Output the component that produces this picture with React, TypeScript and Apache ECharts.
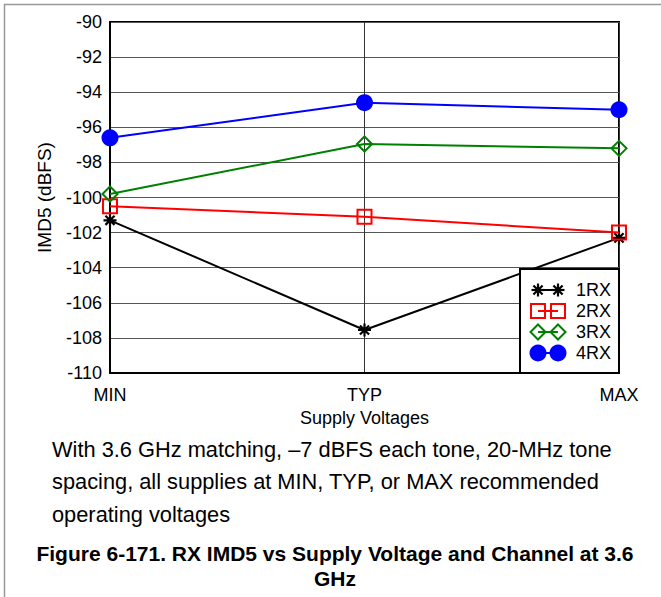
import React, { useEffect, useRef } from "react";
import * as echarts from "echarts";

const categories = ["MIN", "TYP", "MAX"];
const rx1 = [-101.3, -107.55, -102.3];
const rx2 = [-100.5, -101.1, -102.0];
const rx3 = [-99.8, -96.95, -97.2];
const rx4 = [-96.6, -94.6, -95.0];
const seriesNames = ["1RX", "2RX", "3RX", "4RX"];
const captionLines = [
  "With 3.6 GHz matching, \u20137 dBFS each tone, 20-MHz tone",
  "spacing, all supplies at MIN, TYP, or MAX recommended",
  "operating voltages",
];
const titleLines = ["Figure 6-171. RX IMD5 vs Supply Voltage and Channel at 3.6", "GHz"];

const ASTERISK = "path://M5,0L5,10M0,5L10,5M1.5,1.5L8.5,8.5M1.5,8.5L8.5,1.5";
const FONT = "'Liberation Sans', Arial, sans-serif";

export default function App() {
  const ref = useRef<HTMLDivElement>(null);
  useEffect(() => {
    if (!ref.current) return;
    const chart = echarts.init(ref.current, null, { renderer: "svg" });
    const styles = [
      { color: "#000", symbol: ASTERISK, size: 13, item: { color: "#000", borderColor: "#000", borderWidth: 2.2 } },
      { color: "#ff0000", symbol: "rect", size: 14, item: { color: "rgba(0,0,0,0)", borderColor: "#ff0000", borderWidth: 2 } },
      { color: "#008000", symbol: "diamond", size: 15, item: { color: "rgba(0,0,0,0)", borderColor: "#008000", borderWidth: 2 } },
      { color: "#0000ff", symbol: "circle", size: 17, item: { color: "#0000ff", borderColor: "#0000ff", borderWidth: 0 } },
    ];
    const datas = [rx1, rx2, rx3, rx4];
    const series = datas.map((d, i) => ({
      name: seriesNames[i],
      type: "line",
      data: d,
      symbol: styles[i].symbol,
      symbolSize: styles[i].size,
      showAllSymbol: true,
      lineStyle: { color: styles[i].color, width: 2 },
      itemStyle: styles[i].item,
      z: 2 + i,
    }));

    const legendRows = [290, 311, 332, 353];
    const legendEls: any[] = [
      { type: "rect", shape: { x: 520, y: 269, width: 99, height: 104 }, style: { fill: "#fff", stroke: "#000", lineWidth: 2 }, z: 100 },
    ];
    legendRows.forEach((y, i) => {
      const c = styles[i].color;
      legendEls.push({ type: "line", shape: { x1: 538, y1: y, x2: 558, y2: y }, style: { stroke: c, lineWidth: 2 }, z: 101 });
      [538, 558].forEach((x) => {
        if (i === 0) {
          const r = 6.5;
          [[0, 1], [1, 0], [0.707, 0.707], [0.707, -0.707]].forEach(([dx, dy]) => {
            legendEls.push({ type: "line", shape: { x1: x - dx * r, y1: y - dy * r, x2: x + dx * r, y2: y + dy * r }, style: { stroke: c, lineWidth: 2.2 }, z: 102 });
          });
        } else if (i === 1) {
          legendEls.push({ type: "rect", shape: { x: x - 7, y: y - 7, width: 14, height: 14 }, style: { fill: "none", stroke: c, lineWidth: 2 }, z: 102 });
        } else if (i === 2) {
          legendEls.push({ type: "polygon", shape: { points: [[x, y - 7.5], [x + 7.5, y], [x, y + 7.5], [x - 7.5, y]] }, style: { fill: "none", stroke: c, lineWidth: 2 }, z: 102 });
        } else {
          legendEls.push({ type: "circle", shape: { cx: x, cy: y, r: 8.5 }, style: { fill: c }, z: 102 });
        }
      });
      legendEls.push({ type: "text", x: 576, y: y, style: { text: seriesNames[i], font: `18px ${FONT}`, fill: "#000", verticalAlign: "middle" }, z: 102 });
    });

    const captionEls = captionLines.map((t, i) => ({
      type: "text",
      x: 52,
      y: 449 + i * 32.5,
      style: { text: t, font: `21.8px ${FONT}`, fill: "#000", verticalAlign: "middle" },
    }));
    const titleEls = titleLines.map((t, i) => ({
      type: "text",
      x: 335,
      y: 553 + i * 25,
      style: { text: t, font: `bold 21px ${FONT}`, fill: "#000", align: "center", verticalAlign: "middle" },
    }));

    chart.setOption({
      animation: false,
      backgroundColor: "#fff",
      grid: { left: 110, top: 22, width: 509, height: 351, show: true, borderColor: "#000", borderWidth: 2, containLabel: false },
      xAxis: {
        type: "category",
        data: categories,
        boundaryGap: false,
        name: "Supply Voltages",
        nameLocation: "middle",
        nameGap: 31,
        nameTextStyle: { fontFamily: FONT, fontSize: 18, color: "#000" },
        axisLine: { show: true, lineStyle: { color: "#000", width: 2 } },
        axisTick: { show: false },
        axisLabel: { fontFamily: FONT, fontSize: 18, color: "#000", margin: 13, showMinLabel: true, showMaxLabel: true },
        splitLine: { show: true, lineStyle: { color: "#333", width: 1 } },
      },
      yAxis: {
        type: "value",
        min: -110,
        max: -90,
        interval: 2,
        name: "IMD5 (dBFS)",
        nameLocation: "middle",
        nameGap: 56,
        nameRotate: 90,
        nameTextStyle: { fontFamily: FONT, fontSize: 19, color: "#000" },
        axisLine: { show: true, lineStyle: { color: "#000", width: 2 } },
        axisTick: { show: false },
        axisLabel: { fontFamily: FONT, fontSize: 18, color: "#000", margin: 8 },
        splitLine: { show: true, lineStyle: { color: "#555", width: 1 } },
      },
      series,
      graphic: [
        { type: "rect", shape: { x: 4.5, y: 4.5, width: 700, height: 700 }, style: { fill: "none", stroke: "#999", lineWidth: 1.5 }, z: -10 },
        ...legendEls,
        ...captionEls,
        ...titleEls,
      ],
    });
    return () => chart.dispose();
  }, []);
  return <div ref={ref} style={{ position: "absolute", left: 0, top: 0, width: 661, height: 597 }} />;
}
